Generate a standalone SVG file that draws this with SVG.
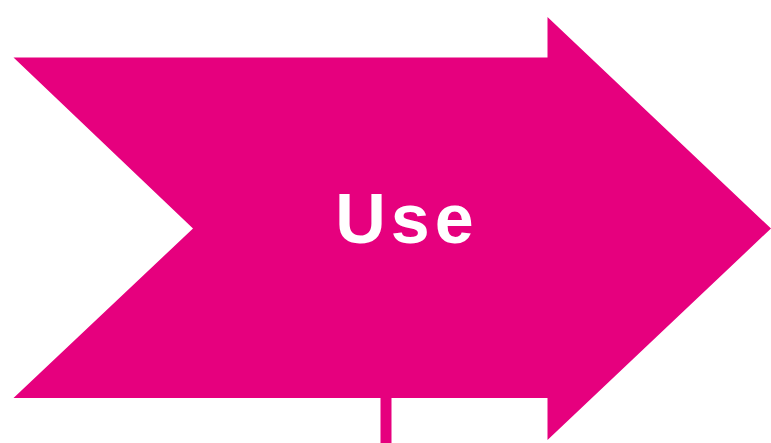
<svg xmlns="http://www.w3.org/2000/svg" width="771" height="443" viewBox="0 0 771 443">
<style>
.shape{fill:#E6007E}
.lbl{font-family:"Liberation Sans",Arial,sans-serif;font-weight:bold;font-size:70px;fill:#ffffff;letter-spacing:5px}
.conn{stroke:#E6007E;stroke-width:11;fill:none}
</style>
<rect width="771" height="443" fill="#ffffff"/>
<g id="connectors">
<line class="conn" x1="386" y1="395" x2="386" y2="443"/>
</g>
<g id="use">
<polygon class="shape" points="13.5,57.5 547.5,57.5 547.5,17 771,228.5 547.5,440 547.5,398 13.5,398 193,228.5"/>
<text class="lbl" x="407" y="243" text-anchor="middle">Use</text>
</g>
</svg>
